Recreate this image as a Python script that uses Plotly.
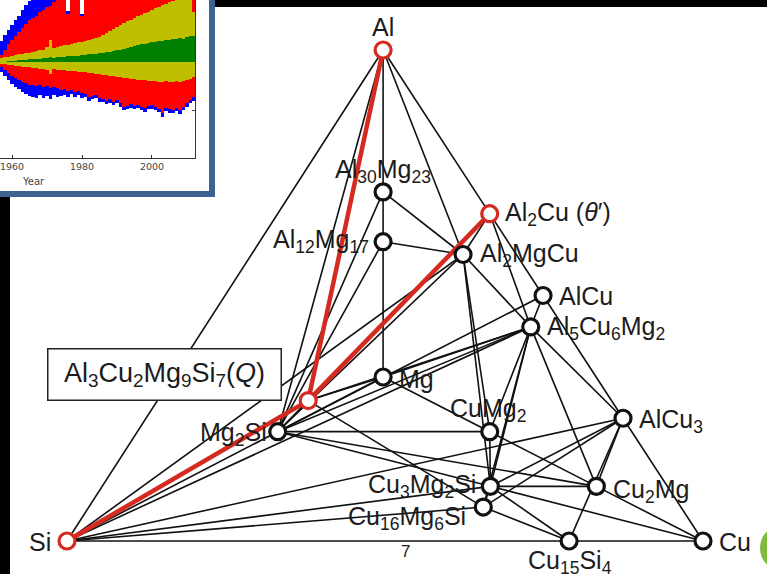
import plotly.graph_objects as go

W, H = 767, 574

# ---------------- Al-Cu-Mg-Si phase diagram data ----------------
# compositions as atom counts (Al, Cu, Mg, Si)
phase_names = ["Al", "Si", "Cu", "Mg", "Al30Mg23", "Al12Mg17", "Al2Cu", "Al2MgCu",
               "AlCu", "Al5Cu6Mg2", "AlCu3", "Mg2Si", "CuMg2", "Cu2Mg",
               "Cu3Mg2Si", "Cu16Mg6Si7", "Cu15Si4", "Q"]
phase_al = [1, 0, 0, 0, 30, 12, 2, 2, 1, 5, 1, 0, 0, 0, 0, 0, 0, 3]
phase_cu = [0, 0, 1, 0, 0, 0, 1, 1, 1, 6, 3, 0, 1, 2, 3, 16, 15, 2]
phase_mg = [0, 0, 0, 1, 23, 17, 0, 1, 0, 2, 0, 2, 2, 1, 2, 6, 0, 9]
phase_si = [0, 1, 0, 0, 0, 0, 0, 0, 0, 0, 0, 1, 0, 0, 1, 7, 4, 7]

highlighted = ["Al", "Si", "Al2Cu", "Q"]

tie_lines = [
    ("Al", "Si"), ("Al", "Mg2Si"), ("Al", "Al30Mg23"), ("Al", "Al2MgCu"), ("Al", "Al2Cu"),
    ("Al2Cu", "AlCu"), ("AlCu", "AlCu3"), ("AlCu3", "Cu"), ("Si", "Cu15Si4"), ("Cu15Si4", "Cu"),
    ("Al30Mg23", "Al12Mg17"), ("Al30Mg23", "Al2MgCu"), ("Al30Mg23", "Mg2Si"),
    ("Al12Mg17", "Mg"), ("Al12Mg17", "Al2MgCu"), ("Al12Mg17", "Mg2Si"),
    ("Al2Cu", "Al2MgCu"), ("Al2Cu", "Al5Cu6Mg2"),
    ("Al2MgCu", "Al5Cu6Mg2"), ("Al2MgCu", "CuMg2"), ("Al2MgCu", "Cu3Mg2Si"),
    ("Al2MgCu", "Mg2Si"), ("Al2MgCu", "Si"),
    ("AlCu", "Al5Cu6Mg2"), ("AlCu", "Mg2Si"),
    ("Al5Cu6Mg2", "Mg"), ("Al5Cu6Mg2", "Mg2Si"), ("Al5Cu6Mg2", "Q"), ("Al5Cu6Mg2", "AlCu3"),
    ("Al5Cu6Mg2", "Cu2Mg"), ("Al5Cu6Mg2", "CuMg2"), ("Al5Cu6Mg2", "Cu3Mg2Si"),
    ("Al5Cu6Mg2", "Cu16Mg6Si7"), ("Al5Cu6Mg2", "Si"),
    ("Mg", "Mg2Si"), ("Mg", "Q"), ("Mg", "CuMg2"),
    ("Mg2Si", "Si"), ("Mg2Si", "CuMg2"), ("Mg2Si", "Cu3Mg2Si"), ("Mg2Si", "Q"),
    ("Mg2Si", "Cu2Mg"),
    ("Q", "Cu16Mg6Si7"),
    ("CuMg2", "Cu3Mg2Si"), ("CuMg2", "Cu2Mg"),
    ("Cu3Mg2Si", "Cu2Mg"), ("Cu3Mg2Si", "Cu"), ("Cu3Mg2Si", "Cu15Si4"), ("Cu3Mg2Si", "AlCu3"),
    ("Cu3Mg2Si", "Cu16Mg6Si7"), ("Cu3Mg2Si", "Si"),
    ("Cu16Mg6Si7", "Si"), ("Cu16Mg6Si7", "Cu15Si4"), ("Cu16Mg6Si7", "AlCu3"),
    ("AlCu3", "Cu2Mg"), ("AlCu3", "Cu15Si4"), ("AlCu3", "Si"),
    ("Cu2Mg", "Cu"),
]
q_tie_lines = [("Al", "Q"), ("Al2Cu", "Q"), ("Si", "Q")]

phase_labels = {
    "Al": "Al", "Si": "Si", "Cu": "Cu", "Mg": "Mg",
    "Al30Mg23": "Al<sub>30</sub>Mg<sub>23</sub>",
    "Al12Mg17": "Al<sub>12</sub>Mg<sub>17</sub>",
    "Al2Cu": "Al<sub>2</sub>Cu (<i>θ</i>′)",
    "Al2MgCu": "Al<sub>2</sub>MgCu",
    "AlCu": "AlCu",
    "Al5Cu6Mg2": "Al<sub>5</sub>Cu<sub>6</sub>Mg<sub>2</sub>",
    "AlCu3": "AlCu<sub>3</sub>",
    "Mg2Si": "Mg<sub>2</sub>Si",
    "CuMg2": "CuMg<sub>2</sub>",
    "Cu2Mg": "Cu<sub>2</sub>Mg",
    "Cu3Mg2Si": "Cu<sub>3</sub>Mg<sub>2</sub>Si",
    "Cu16Mg6Si7": "Cu<sub>16</sub>Mg<sub>6</sub>Si",
    "Cu15Si4": "Cu<sub>15</sub>Si<sub>4</sub>",
}
q_label = "Al<sub>3</sub>Cu<sub>2</sub>Mg<sub>9</sub>Si<sub>7</sub>(<i>Q</i>)"

# label placement: (xanchor, dx px, dy px; dy downwards)
label_place = {
    "Al": ("center", 0, -23), "Si": ("right", -14, 1), "Cu": ("left", 14, 1),
    "Mg": ("left", 14, 2), "Al30Mg23": ("center", 0, -21),
    "Al12Mg17": ("right", -12, -1), "Al2Cu": ("left", 13, 0),
    "Al2MgCu": ("left", 15, 0), "AlCu": ("left", 14, 0),
    "Al5Cu6Mg2": ("left", 14, 1), "AlCu3": ("left", 14, 3),
    "Mg2Si": ("right", -9, 2), "CuMg2": ("center", -2, -22),
    "Cu2Mg": ("left", 15, 5), "Cu3Mg2Si": ("right", -12, 0),
    "Cu16Mg6Si7": ("right", -15, 11), "Cu15Si4": ("center", 1, 21),
}

# projection: Si and Cu at the base corners, Al at the apex, Mg at the centre
corner_al = (0.497, 1.0)
corner_cu = (1.0, 0.0)
corner_mg = (0.497, 0.334)
corner_si = (0.0, 0.0)


def project(a, c, m, s):
    n = a + c + m + s
    u = (a * corner_al[0] + c * corner_cu[0] + m * corner_mg[0] + s * corner_si[0]) / n
    v = (a * corner_al[1] + c * corner_cu[1] + m * corner_mg[1] + s * corner_si[1]) / n
    return u, v


pos = {n: project(a, c, m, s)
       for n, a, c, m, s in zip(phase_names, phase_al, phase_cu, phase_mg, phase_si)}

# ---------------- inset: yearly stacked counts ----------------
years = list(range(1957, 2013))
green_up = [0, 0, 1, 1, 1, 2, 2, 2, 3, 3, 3, 3, 4, 4, 5, 4, 5, 5, 5, 6,
            6, 6, 6, 7, 7, 8, 8, 8, 9, 9, 10, 10, 11, 12, 12, 13, 14, 15, 16, 17,
            18, 18, 19, 20, 20, 21, 21, 22, 22, 23, 23, 24, 23, 25, 26, 26]
yellow_up = [4, 5, 4, 5, 6, 6, 6, 7, 6, 7, 8, 9, 8, 11, 17, 10, 10, 11, 12, 11,
             12, 13, 14, 13, 14, 14, 15, 16, 16, 18, 19, 21, 22, 23, 25, 26, 27, 27, 28, 29,
             29, 31, 31, 32, 34, 34, 36, 36, 38, 38, 39, 39, 40, 39, 38, 24]
red_up = [3, 7, 13, 16, 19, 22, 26, 29, 33, 34, 35, 38, 40, 40, 34, 46, 49, 50, 51, 31,
          48, 49, 46, 26, 47, 48, 49, 48, 50, 49, 48, 47, 46, 45, 44, 43, 42, 43, 42, 41,
          40, 40, 41, 39, 38, 39, 38, 38, 37, 38, 37, 38, 37, 38, 39, 40]
blue_up = [14, 15, 14, 15, 16, 16, 18, 19, 19, 20, 20, 19, 20, 18, 10, 17, 16, 15, 14, 3,
           12, 11, 12, 2, 10, 9, 9, 10, 9, 8, 9, 10, 9, 8, 9, 10, 9, 8, 9, 10,
           9, 8, 9, 10, 9, 8, 9, 10, 9, 8, 9, 10, 9, 8, 9, 10]
yellow_dn = [-2, -2, -3, -3, -4, -4, -5, -5, -5, -6, -6, -7, -7, -8, -12, -7, -8, -8, -8, -9,
             -9, -9, -10, -10, -10, -11, -11, -12, -12, -13, -13, -14, -14, -15, -15, -16, -16, -17, -17, -18,
             -18, -18, -19, -19, -19, -20, -20, -19, -20, -20, -19, -20, -19, -18, -17, -15]
red_dn = [-3, -6, -8, -11, -12, -14, -15, -16, -18, -17, -18, -16, -18, -16, -14, -18, -18, -20, -19, -20,
          -19, -21, -19, -21, -22, -24, -23, -21, -24, -24, -26, -23, -26, -23, -26, -29, -28, -25, -27, -25,
          -27, -28, -25, -24, -26, -27, -31, -27, -27, -28, -27, -28, -26, -23, -21, -20]
blue_dn = [-5, -6, -7, -8, -9, -9, -10, -11, -11, -12, -12, -10, -11, -10, -11, -8, -9, -6, -6, -6,
           -4, -5, -4, -5, -3, -4, -3, -3, -4, -3, -3, -4, -3, -3, -4, -3, -3, -4, -3, -3,
           -3, -4, -3, -4, -3, -3, -4, -3, -4, -3, -3, -4, -3, -4, -3, -4]
inset_ticks = [1960, 1980, 2000]

FONT = "Liberation Sans, Arial, Helvetica, sans-serif"
TXT = "#1c1c1c"
RED = "#d42a1f"

# pixel helpers for the plotting frame
X0, XS = 67.0, 636.0      # pixel of u=0, pixels per unit u
Y0, YS = 541.0, 491.0     # pixel of v=0, pixels per unit v


def px2paper(x, y):
    return x / W, 1 - y / H


fig = go.Figure()

# black tie lines
lx, ly = [], []
for a, b in tie_lines:
    lx += [pos[a][0], pos[b][0], None]
    ly += [pos[a][1], pos[b][1], None]
fig.add_trace(go.Scatter(x=lx, y=ly, mode="lines", line=dict(color="#111111", width=1.6),
                         hoverinfo="skip", showlegend=False))

# red tie lines to the Q phase
rx, ry = [], []
for a, b in q_tie_lines:
    rx += [pos[a][0], pos[b][0], None]
    ry += [pos[a][1], pos[b][1], None]
fig.add_trace(go.Scatter(x=rx, y=ry, mode="lines", line=dict(color=RED, width=4.5),
                         hoverinfo="skip", showlegend=False))

# phase markers
blk = [n for n in phase_names if n not in highlighted]
fig.add_trace(go.Scatter(x=[pos[n][0] for n in blk], y=[pos[n][1] for n in blk], mode="markers",
                         marker=dict(symbol="circle", size=16, color="white",
                                     line=dict(color="#111111", width=3.2)),
                         text=blk, hoverinfo="text", showlegend=False))
fig.add_trace(go.Scatter(x=[pos[n][0] for n in highlighted], y=[pos[n][1] for n in highlighted],
                         mode="markers",
                         marker=dict(symbol="circle", size=16, color="white",
                                     line=dict(color=RED, width=3.2)),
                         text=highlighted, hoverinfo="text", showlegend=False))

for n, txt in phase_labels.items():
    xa, dx, dy = label_place[n]
    fig.add_annotation(x=pos[n][0], y=pos[n][1], xref="x", yref="y", text=txt, showarrow=False,
                       xanchor=xa, yanchor="middle", xshift=dx, yshift=-dy,
                       font=dict(family=FONT, size=25, color=TXT))

# stray subscript of Cu16Mg6Si7
fig.add_annotation(x=pos["Cu16Mg6Si7"][0], y=pos["Cu16Mg6Si7"][1], xref="x", yref="y", text="7",
                   showarrow=False, xanchor="center", yanchor="middle", xshift=-78, yshift=-44,
                   font=dict(family=FONT, size=17, color=TXT))

# boxed label of the Q phase
fig.add_annotation(x=pos["Q"][0], y=pos["Q"][1], xref="x", yref="y", text=q_label, showarrow=False,
                   xanchor="center", yanchor="middle", xshift=-144, yshift=26,
                   width=228, height=46, borderpad=2, borderwidth=1.5, bordercolor="#222222",
                   bgcolor="white", font=dict(family=FONT, size=27, color=TXT))

# inset bars
for vals, col in [(green_up, "#008000"), (yellow_up, "#bfbf00"), (yellow_dn, "#bfbf00"),
                  (red_up, "#ff0000"), (red_dn, "#ff0000"), (blue_up, "#0000ff"), (blue_dn, "#0000ff")]:
    fig.add_trace(go.Bar(x=years, y=vals, width=1.0, marker=dict(color=col, line=dict(width=0)),
                         xaxis="x2", yaxis="y2", showlegend=False, hoverinfo="skip"))

shapes = []
# black strips at the top and left edges, and the frame of the inset
for (x0, y0, x1, y1, c) in [(215, 0, 767, 7, "black"), (0, 197, 10, 574, "black"),
                            (209, 0, 215, 197, "#3d6392"), (0, 191, 215, 197, "#3d6392")]:
    a0, b0 = px2paper(x0, y0)
    a1, b1 = px2paper(x1, y1)
    shapes.append(dict(type="rect", xref="paper", yref="paper", x0=a0, x1=a1, y0=b1, y1=b0,
                       fillcolor=c, line=dict(width=0), layer="above"))
# partial logo at the lower right edge
g0, h0 = px2paper(760, 524)
g1, h1 = px2paper(810, 572)
shapes.append(dict(type="circle", xref="paper", yref="paper", x0=g0, x1=g1, y0=h1, y1=h0,
                   fillcolor="#7dbb3c", line=dict(width=0)))

fig.add_annotation(x=20 / W, y=1 - 174 / H, xref="paper", yref="paper", text="Year", showarrow=False,
                   font=dict(family="DejaVu Sans, sans-serif", size=10, color="#444444"))

fig.update_layout(
    width=W, height=H, margin=dict(l=0, r=0, t=0, b=0),
    paper_bgcolor="white", plot_bgcolor="rgba(0,0,0,0)",
    barmode="relative", bargap=0, shapes=shapes,
    xaxis=dict(range=[(0 - X0) / XS, (W - X0) / XS], domain=[0, 1], visible=False, fixedrange=True),
    yaxis=dict(range=[(Y0 - H) / YS, Y0 / YS], domain=[0, 1], visible=False, fixedrange=True),
    xaxis2=dict(range=[1956.57, 2012.29], domain=[0, 195 / W], anchor="y2",
                tickvals=inset_ticks, ticks="inside", ticklen=3, tickcolor="#333333",
                tickfont=dict(family="DejaVu Sans, sans-serif", size=9.5, color="#444444"),
                ticklabeloverflow="allow",
                showline=True, linecolor="#333333", linewidth=1, showgrid=False, zeroline=False,
                layer="above traces"),
    yaxis2=dict(range=[-96, 62], domain=[1 - 158 / H, 1], anchor="x2", side="right",
                tickvals=[-48], ticks="inside", ticklen=3, showticklabels=False,
                showline=True, linecolor="#333333", linewidth=1, showgrid=False,
                zeroline=True, zerolinecolor="#003300", zerolinewidth=1.5, layer="above traces"),
)

fig.write_html("out.html")
